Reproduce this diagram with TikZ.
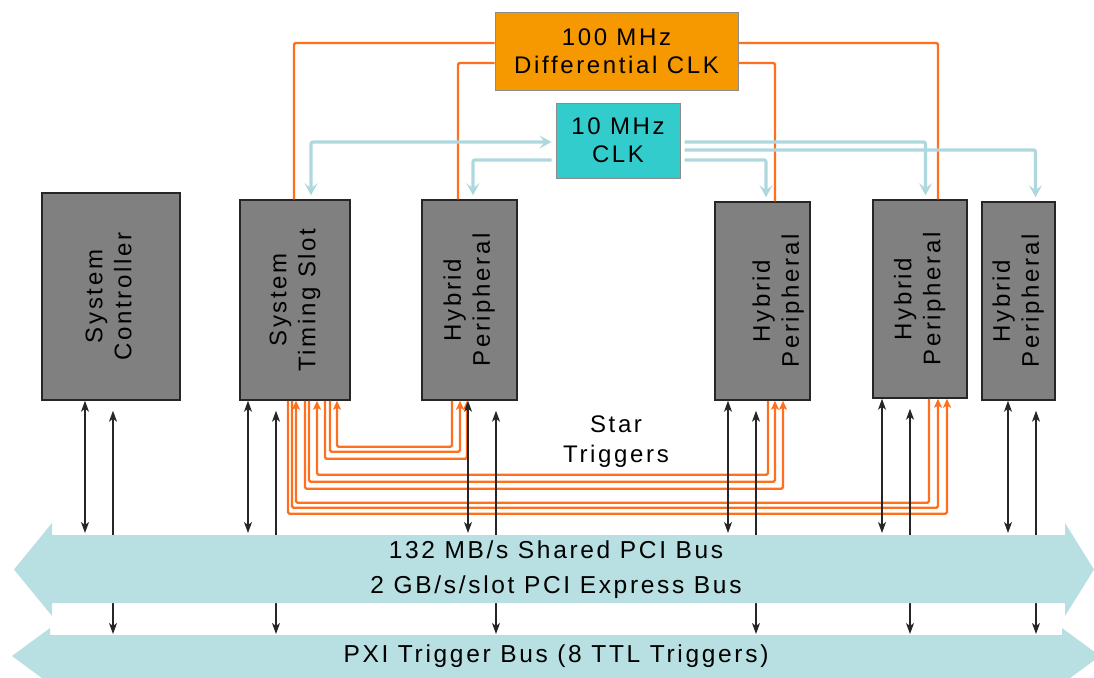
\documentclass[tikz,border=0pt]{standalone}
\usepackage{fontspec}
\setmainfont{Liberation Sans}[LetterSpace=11]
\usetikzlibrary{positioning,arrows.meta,calc}
\definecolor{modgray}{RGB}{128,128,128}
\definecolor{clkorange}{RGB}{246,152,0}
\definecolor{clkteal}{RGB}{51,204,204}
\definecolor{trigorange}{RGB}{255,112,30}
\definecolor{refblue}{RGB}{175,216,222}
\definecolor{busblue}{RGB}{184,223,226}
\newcommand{\vlabel}[2]{\rotatebox{90}{\begin{tabular}{@{}c@{}}#1\\#2\end{tabular}}}

\begin{document}
\begin{tikzpicture}[x=1pt, y=-1pt,
    module/.style={draw=black!85, fill=modgray, line width=1.5pt, inner sep=0pt,
                   minimum height=200pt, font=\fontsize{24}{29}\selectfont},
    clkbox/.style={draw=black!45, line width=1pt, align=center, inner sep=0pt,
                   font=\fontsize{24}{28}\selectfont},
    bustext/.style={align=center, font=\fontsize{24.5}{35}\selectfont},
    dclkw/.style={draw=trigorange, line width=2.4pt, rounded corners=2pt},
    refclk/.style={draw=refblue, line width=3.2pt, rounded corners=2pt,
                   >={Stealth[length=12pt,width=13pt,inset=5pt]},
                   shorten >=4pt, shorten <=4pt},
    trig/.style={draw=trigorange, line width=2.2pt, rounded corners=1.5pt},
    bline/.style={draw=black!85, line width=1.1pt,
                  >={Stealth[length=11pt,width=8pt,inset=3pt]}}
  ]
  \useasboundingbox (0,0) rectangle (1094,677);
  \coordinate (pcitop) at (0,533);
  \coordinate (pxitop) at (0,634);
  % clock sources
  \node[clkbox, fill=clkorange, minimum width=243pt, minimum height=77pt]
    (dclk) at (616.5,51.5) {100 MHz\\Differential CLK};
  \node[clkbox, fill=clkteal, minimum width=124pt, minimum height=75pt]
    (rclk) at (618,140.5) {10 MHz\\CLK};
  % slots
  \node[module, minimum width=138pt, minimum height=207pt] (ctrl) at (111,296.5)
    {\vlabel{System}{Controller}};
  \node[module, minimum width=110pt] (tslot) at (295,300) {\vlabel{System}{Timing Slot}};
  \node[module, minimum width=95pt] (hyb1) at (469.5,300) {\vlabel{Hybrid}{Peripheral}};
  \node[module, minimum width=95pt, minimum height=198pt] (hyb2) at (762.5,301)
    {\hspace*{32pt}\vlabel{Hybrid}{Peripheral}};
  \node[module, minimum width=94pt, minimum height=198pt] (hyb3) at (920,299)
    {\vlabel{Hybrid}{Peripheral}};
  \node[module, minimum width=73pt, minimum height=198pt] (hyb4) at (1018.5,301)
    {\vlabel{Hybrid}{Peripheral}};
  % 100 MHz differential clock
  \draw[dclkw] ([yshift=8.5pt]dclk.west) -| ([xshift=-1pt]tslot.north);
  \draw[dclkw] ([yshift=-11.5pt]dclk.west) -| ([xshift=-11.5pt]hyb1.north);
  \draw[dclkw] ([yshift=-11.5pt]dclk.east) -| ([xshift=12.5pt]hyb2.north);
  \draw[dclkw] ([yshift=8.5pt]dclk.east) -| ([xshift=18pt]hyb3.north);
  % 10 MHz clock
  \draw[refclk,<->] ([xshift=16pt]tslot.north) |- ([yshift=-1.5pt]rclk.west);
  \draw[refclk,->] ([yshift=-19.5pt]rclk.west) -| ([xshift=3.5pt]hyb1.north);
  \draw[refclk,->] ([yshift=-19.5pt]rclk.east) -| ([xshift=3.5pt]hyb2.north);
  \draw[refclk,->] ([yshift=-1.5pt]rclk.east) -| ([xshift=5.5pt]hyb3.north);
  \draw[refclk,->] ([yshift=-9.5pt]rclk.east) -| ([xshift=17pt]hyb4.north);
  % star triggers
  \foreach \hyb/\ds/\dy/\dh in {hyb1/30/58/-2.5, hyb1/35/51/-9.5,
      hyb2/10/88/20.5, hyb2/14/81/12.5, hyb3/-7/113/27, hyb3/-3/107/18}
    \draw[trig, -{Stealth[length=9pt,width=8pt,inset=2pt]}]
      ([xshift=\ds pt]tslot.south) -- ++(0,\dy) -| ([xshift=\dh pt]\hyb.south);
  \foreach \hyb/\ds/\dy/\dh in {hyb1/42/46/-17.5, hyb2/22/74/5.5, hyb3/1/102/9}
    \draw[trig, {Stealth[length=9pt,width=8pt,inset=2pt]}-]
      ([xshift=\ds pt]tslot.south) -- ++(0,\dy) -| ([xshift=\dh pt]\hyb.south);
  \node[align=center, font=\fontsize{24}{30}\selectfont] (star) at (616,442)
    {Star\\Triggers};
  % trigger bus lines (behind the PCI bus)
  \foreach \m/\dx in {ctrl/2, tslot/-19, hyb1/26.5, hyb2/-6.5, hyb3/-10, hyb4/17.5}
    \draw[bline,<->, shorten >=10pt] ([xshift=\dx pt]\m.south |- pxitop)
      -- ([xshift=\dx pt]\m.south);
  % buses
  \fill[busblue] (14,569.5) -- (52,523) -- (52,535) -- (1065,535) -- (1065,523)
    -- (1094,569.5) -- (1065,616) -- (1065,603) -- (52,603) -- (52,616) -- cycle;
  \fill[busblue] (12,656) -- (50,628) -- (50,635) -- (1062,635) -- (1062,628)
    -- (1100,656) -- (1062,684) -- (1062,680) -- (50,680) -- (50,684) -- cycle;
  \node[bustext] (pci) at (556,569.5)
    {132 MB/s Shared PCI Bus\\2 GB/s/slot PCI Express Bus};
  \node[bustext] (pxi) at (556,656) {PXI Trigger Bus (8 TTL Triggers)};
  % PCI links
  \foreach \m/\dx in {ctrl/-26, tslot/-47, hyb1/-1.5, hyb2/-34.5, hyb3/-38, hyb4/-10.5}
    \draw[bline,<->] ([xshift=\dx pt]\m.south) -- ([xshift=\dx pt]\m.south |- pcitop);
\end{tikzpicture}
\end{document}
